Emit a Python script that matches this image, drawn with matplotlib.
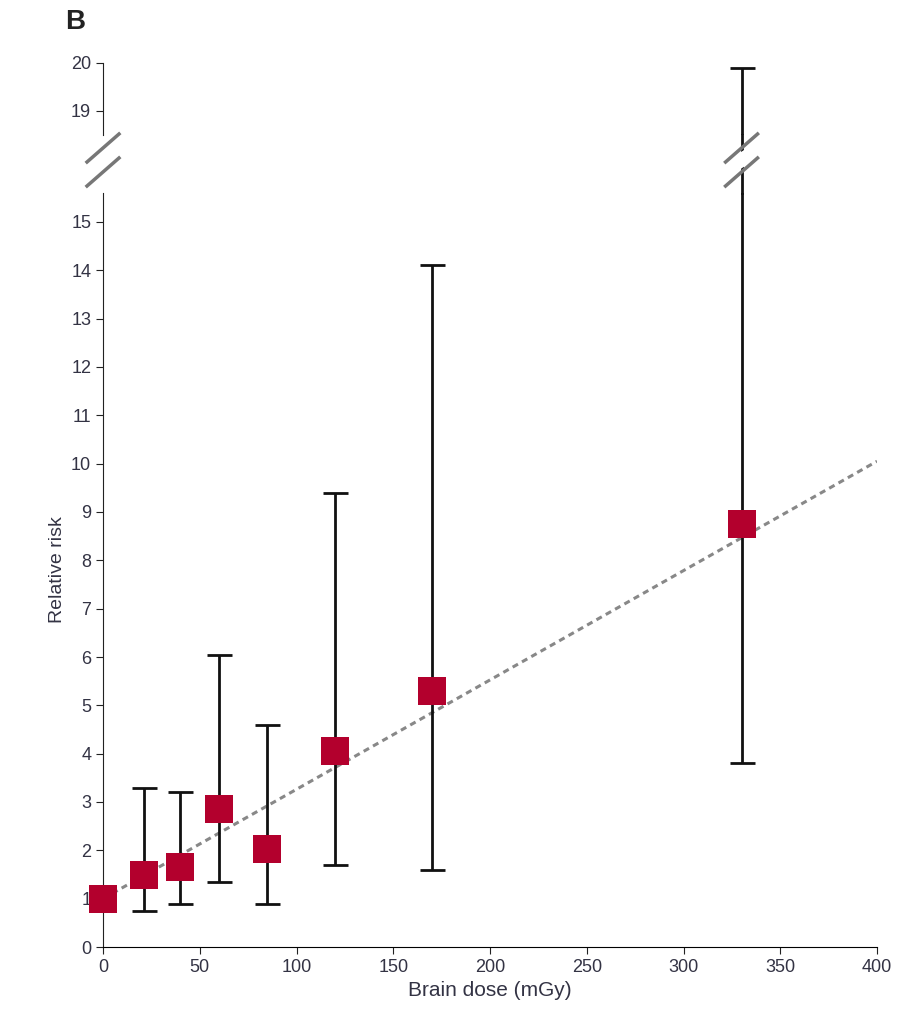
import matplotlib.pyplot as plt
from matplotlib.lines import Line2D

plt.rcParams['font.family'] = ['Liberation Sans Narrow', 'Liberation Sans', 'DejaVu Sans']

dose = [0, 21, 40, 60, 85, 120, 170, 330]
rr = [1.0, 1.5, 1.65, 2.85, 2.02, 4.05, 5.3, 8.75]
lo = [1.0, 0.75, 0.9, 1.35, 0.9, 1.7, 1.6, 3.8]
hi = [1.0, 3.3, 3.2, 6.05, 4.6, 9.4, 14.1, 19.9]
fit_x = [0, 400]
fit_y = [1.0, 10.05]

red = '#b3002d'
txt = '#333344'
W, H = 897, 1024
fig = plt.figure(figsize=(W / 100, H / 100), dpi=100)
left, width = 103 / W, (877 - 103) / W
ax = fig.add_axes([left, 1 - 947 / H, width, (947 - 193) / H])
ax2 = fig.add_axes([left, 1 - 135 / H, width, (135 - 63) / H])

for a in (ax, ax2):
    a.plot(fit_x, fit_y, ls=(0, (2, 1.5)), color='#888888', lw=2.2, zorder=1)
    for x, y, l, h in zip(dose, rr, lo, hi):
        if h > l:
            a.errorbar([x], [y], yerr=[[y - l], [h - y]], fmt='none', ecolor='#111111',
                       elinewidth=2, capsize=9, capthick=2, zorder=2)
    a.set_xlim(0, 400)
    for s in ('top', 'right'):
        a.spines[s].set_visible(False)
    a.spines['left'].set_color('#222222')
    a.tick_params(colors=txt, labelsize=13, length=5, color='#222222')

ax.scatter(dose, rr, marker='s', s=380, color=red, zorder=5, linewidths=0, clip_on=False)
ax.set_ylim(0, 15.6)
ax.set_yticks(range(0, 16))
ax.set_xticks(range(0, 401, 50))
ax.set_xlabel('Brain dose (mGy)', color=txt, fontsize=15)
ax.set_ylabel('Relative risk', color=txt, fontsize=14)
ax2.set_ylim(18.5, 20)
ax2.set_yticks([19, 20])
ax2.spines['bottom'].set_visible(False)
ax2.set_xticks([])

# break marks
def slashes(xp, yp):
    for dy in (-12, 12):
        fig.add_artist(Line2D([(xp - 16) / W, (xp + 16) / W],
                              [1 - (yp + dy + 14) / H, 1 - (yp + dy - 14) / H],
                              color='#777777', lw=2.5))

slashes(103, 160)
x330 = 103 + 330 / 400 * (877 - 103)
fig.add_artist(Line2D([x330 / W, x330 / W], [1 - 193 / H, 1 - 135 / H], color='#111111', lw=2))
fig.add_artist(Line2D([(x330 - 3) / W, (x330 + 3) / W], [1 - 162 / H, 1 - 158 / H], color='white', lw=10))
slashes(x330, 160)

fig.text(65 / W, 1 - 22 / H, 'B', fontsize=20, fontweight='bold', color='#222222', va='center')
fig.savefig('out.png', dpi=100)
